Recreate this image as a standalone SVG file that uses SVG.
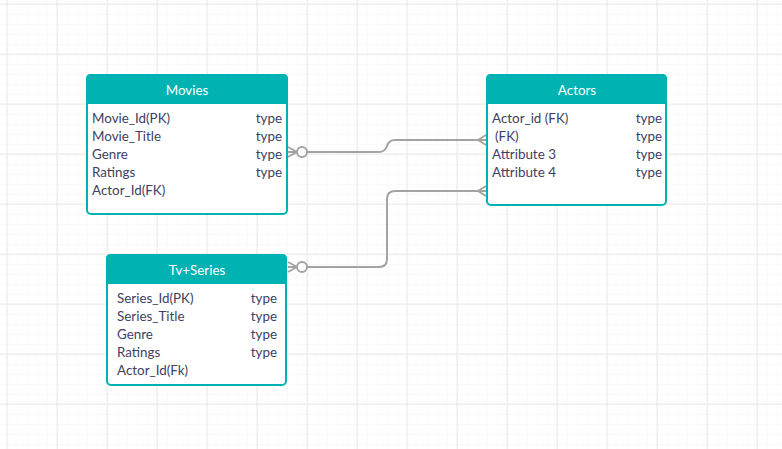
<svg xmlns="http://www.w3.org/2000/svg" width="782" height="449" viewBox="0 0 782 449">
<defs>
<pattern id="minor" x="7" y="4" width="10" height="10" patternUnits="userSpaceOnUse">
<path d="M0 0H10M0 0V10" fill="none" stroke="#f5f5f5" stroke-width="1"/>
</pattern>
<pattern id="major" x="6.5" y="3.5" width="50" height="50" patternUnits="userSpaceOnUse">
<path d="M0 0.5H50M0.5 0V50" fill="none" stroke="#ebebeb" stroke-width="1.5"/>
</pattern>
</defs>
<style>
.hdr{fill:#00b3b3}
.box{fill:#ffffff;stroke:#00b3b3;stroke-width:2}
.ttl{font-family:Lato,"Liberation Sans",sans-serif;font-size:13.4px;fill:#ffffff;text-anchor:middle}
.fld{font-family:Lato,"Liberation Sans",sans-serif;font-size:13.4px;fill:#3d4164}
.typ{font-family:Lato,"Liberation Sans",sans-serif;font-size:13.4px;fill:#3d4164;text-anchor:end}
.conn{fill:none;stroke:#a3a3a3;stroke-width:2}
.circ{fill:#ffffff;stroke:#a3a3a3;stroke-width:2}
</style>
<rect width="782" height="449" fill="#ffffff"/>
<rect width="782" height="449" fill="url(#minor)"/>
<rect width="782" height="449" fill="url(#major)"/>

<g id="connectors">
<path class="conn" d="M288 152H379Q385 152 387 146Q389 140 395 140H486"/>
<path class="conn" d="M288 147L297 152M288 157L297 152"/>
<circle class="circ" cx="302" cy="152" r="5"/>
<path class="conn" d="M478 140L486 135M478 140L486 145"/>

<path class="conn" d="M288 267H379Q387 267 387 259V199Q387 191 395 191H486"/>
<path class="conn" d="M288 262L297 267M288 272L297 267"/>
<circle class="circ" cx="302" cy="267" r="5"/>
<path class="conn" d="M478 191L486 186M478 191L486 196"/>
</g>

<g id="movies">
<rect class="box" x="87" y="75" width="200" height="139" rx="4"/>
<path class="hdr" d="M86 104V79Q86 74 91 74H283Q288 74 288 79V104Z"/>
<text class="ttl" x="187" y="95">Movies</text>
<text class="fld" x="92" y="123">Movie_Id(PK)</text>
<text class="typ" x="282" y="123">type</text>
<text class="fld" x="92" y="141">Movie_Title</text>
<text class="typ" x="282" y="141">type</text>
<text class="fld" x="92" y="159">Genre</text>
<text class="typ" x="282" y="159">type</text>
<text class="fld" x="92" y="177">Ratings</text>
<text class="typ" x="282" y="177">type</text>
<text class="fld" x="92" y="195">Actor_Id(FK)</text>
</g>

<g id="actors">
<rect class="box" x="487" y="75" width="179" height="130" rx="4"/>
<path class="hdr" d="M486 104V79Q486 74 491 74H662Q667 74 667 79V104Z"/>
<text class="ttl" x="577" y="95">Actors</text>
<text class="fld" x="492" y="123">Actor_id (FK)</text>
<text class="typ" x="662" y="123">type</text>
<text class="fld" x="495" y="141">(FK)</text>
<text class="typ" x="662" y="141">type</text>
<text class="fld" x="492" y="159">Attribute 3</text>
<text class="typ" x="662" y="159">type</text>
<text class="fld" x="492" y="177">Attribute 4</text>
<text class="typ" x="662" y="177">type</text>
</g>

<g id="tvseries">
<rect class="box" x="107" y="255" width="179" height="130" rx="4"/>
<path class="hdr" d="M106 284V259Q106 254 111 254H282Q287 254 287 259V284Z"/>
<text class="ttl" x="197" y="275">Tv+Series</text>
<text class="fld" x="117" y="303">Series_Id(PK)</text>
<text class="typ" x="277" y="303">type</text>
<text class="fld" x="117" y="321">Series_Title</text>
<text class="typ" x="277" y="321">type</text>
<text class="fld" x="117" y="339">Genre</text>
<text class="typ" x="277" y="339">type</text>
<text class="fld" x="117" y="357">Ratings</text>
<text class="typ" x="277" y="357">type</text>
<text class="fld" x="117" y="375">Actor_Id(Fk)</text>
</g>
</svg>
